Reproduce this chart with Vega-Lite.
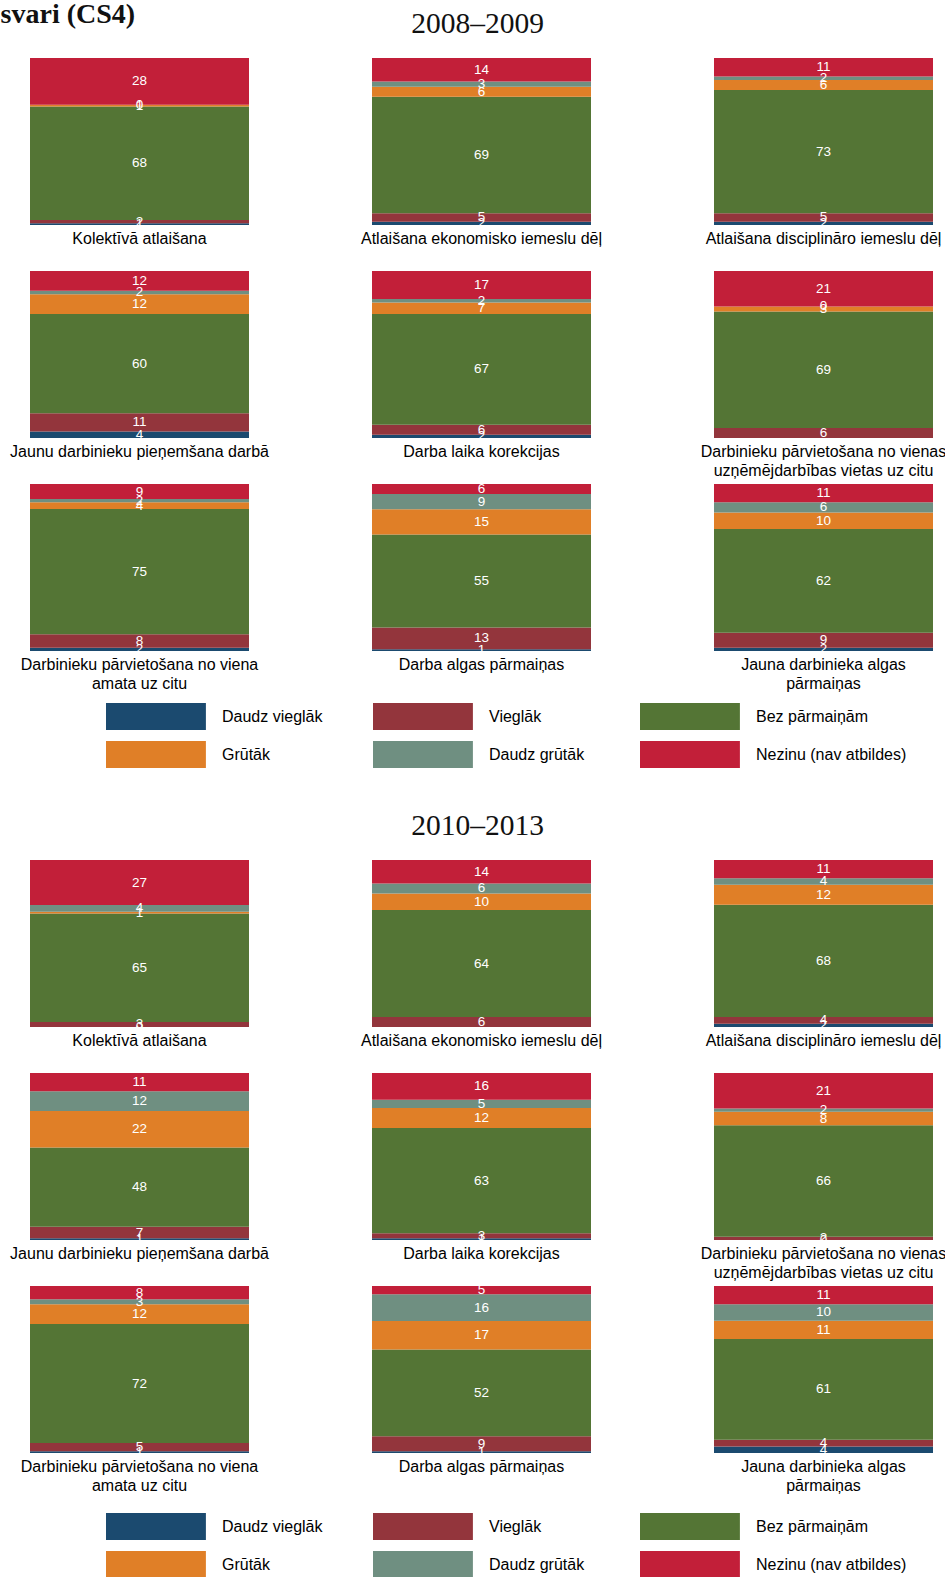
{
  "$schema": "https://vega.github.io/schema/vega-lite/v6.json",
  "padding": 0,
  "background": "white",
  "title": {"text": "svari (CS4)", "anchor": "start", "font": "Liberation Serif", "fontSize": 28, "fontWeight": "bold", "color": "#111", "offset": -20, "dx": -9},
  "config": {
    "view": {"stroke": null},
    "font": "Liberation Sans",
    "header": {"labels": false, "title": null, "labelFontSize": 0, "labelPadding": 0},
    "headerFacet": {"labels": false, "title": null, "labelFontSize": 0, "labelPadding": 0}
  },
  "datasets": {
    "d": [
      {"p": "2008–2009", "item": "Kolektīvā atlaišana", "cat": "Daudz vieglāk", "k": 1, "v": 1},
      {"p": "2008–2009", "item": "Kolektīvā atlaišana", "cat": "Vieglāk", "k": 2, "v": 2},
      {"p": "2008–2009", "item": "Kolektīvā atlaišana", "cat": "Bez pārmaiņām", "k": 3, "v": 68},
      {"p": "2008–2009", "item": "Kolektīvā atlaišana", "cat": "Grūtāk", "k": 4, "v": 1},
      {"p": "2008–2009", "item": "Kolektīvā atlaišana", "cat": "Daudz grūtāk", "k": 5, "v": 0},
      {"p": "2008–2009", "item": "Kolektīvā atlaišana", "cat": "Nezinu (nav atbildes)", "k": 6, "v": 28},
      {"p": "2008–2009", "item": "Atlaišana ekonomisko iemeslu dēļ", "cat": "Daudz vieglāk", "k": 1, "v": 2},
      {"p": "2008–2009", "item": "Atlaišana ekonomisko iemeslu dēļ", "cat": "Vieglāk", "k": 2, "v": 5},
      {"p": "2008–2009", "item": "Atlaišana ekonomisko iemeslu dēļ", "cat": "Bez pārmaiņām", "k": 3, "v": 69},
      {"p": "2008–2009", "item": "Atlaišana ekonomisko iemeslu dēļ", "cat": "Grūtāk", "k": 4, "v": 6},
      {"p": "2008–2009", "item": "Atlaišana ekonomisko iemeslu dēļ", "cat": "Daudz grūtāk", "k": 5, "v": 3},
      {"p": "2008–2009", "item": "Atlaišana ekonomisko iemeslu dēļ", "cat": "Nezinu (nav atbildes)", "k": 6, "v": 14},
      {"p": "2008–2009", "item": "Atlaišana disciplināro iemeslu dēļ", "cat": "Daudz vieglāk", "k": 1, "v": 2},
      {"p": "2008–2009", "item": "Atlaišana disciplināro iemeslu dēļ", "cat": "Vieglāk", "k": 2, "v": 5},
      {"p": "2008–2009", "item": "Atlaišana disciplināro iemeslu dēļ", "cat": "Bez pārmaiņām", "k": 3, "v": 73},
      {"p": "2008–2009", "item": "Atlaišana disciplināro iemeslu dēļ", "cat": "Grūtāk", "k": 4, "v": 6},
      {"p": "2008–2009", "item": "Atlaišana disciplināro iemeslu dēļ", "cat": "Daudz grūtāk", "k": 5, "v": 2},
      {"p": "2008–2009", "item": "Atlaišana disciplināro iemeslu dēļ", "cat": "Nezinu (nav atbildes)", "k": 6, "v": 11},
      {"p": "2008–2009", "item": "Jaunu darbinieku pieņemšana darbā", "cat": "Daudz vieglāk", "k": 1, "v": 4},
      {"p": "2008–2009", "item": "Jaunu darbinieku pieņemšana darbā", "cat": "Vieglāk", "k": 2, "v": 11},
      {"p": "2008–2009", "item": "Jaunu darbinieku pieņemšana darbā", "cat": "Bez pārmaiņām", "k": 3, "v": 60},
      {"p": "2008–2009", "item": "Jaunu darbinieku pieņemšana darbā", "cat": "Grūtāk", "k": 4, "v": 12},
      {"p": "2008–2009", "item": "Jaunu darbinieku pieņemšana darbā", "cat": "Daudz grūtāk", "k": 5, "v": 2},
      {"p": "2008–2009", "item": "Jaunu darbinieku pieņemšana darbā", "cat": "Nezinu (nav atbildes)", "k": 6, "v": 12},
      {"p": "2008–2009", "item": "Darba laika korekcijas", "cat": "Daudz vieglāk", "k": 1, "v": 2},
      {"p": "2008–2009", "item": "Darba laika korekcijas", "cat": "Vieglāk", "k": 2, "v": 6},
      {"p": "2008–2009", "item": "Darba laika korekcijas", "cat": "Bez pārmaiņām", "k": 3, "v": 67},
      {"p": "2008–2009", "item": "Darba laika korekcijas", "cat": "Grūtāk", "k": 4, "v": 7},
      {"p": "2008–2009", "item": "Darba laika korekcijas", "cat": "Daudz grūtāk", "k": 5, "v": 2},
      {"p": "2008–2009", "item": "Darba laika korekcijas", "cat": "Nezinu (nav atbildes)", "k": 6, "v": 17},
      {"p": "2008–2009", "item": "Darbinieku pārvietošana no vienas|uzņēmējdarbības vietas uz citu", "cat": "Vieglāk", "k": 2, "v": 6},
      {"p": "2008–2009", "item": "Darbinieku pārvietošana no vienas|uzņēmējdarbības vietas uz citu", "cat": "Bez pārmaiņām", "k": 3, "v": 69},
      {"p": "2008–2009", "item": "Darbinieku pārvietošana no vienas|uzņēmējdarbības vietas uz citu", "cat": "Grūtāk", "k": 4, "v": 3},
      {"p": "2008–2009", "item": "Darbinieku pārvietošana no vienas|uzņēmējdarbības vietas uz citu", "cat": "Daudz grūtāk", "k": 5, "v": 0},
      {"p": "2008–2009", "item": "Darbinieku pārvietošana no vienas|uzņēmējdarbības vietas uz citu", "cat": "Nezinu (nav atbildes)", "k": 6, "v": 21},
      {"p": "2008–2009", "item": "Darbinieku pārvietošana no viena|amata uz citu", "cat": "Daudz vieglāk", "k": 1, "v": 2},
      {"p": "2008–2009", "item": "Darbinieku pārvietošana no viena|amata uz citu", "cat": "Vieglāk", "k": 2, "v": 8},
      {"p": "2008–2009", "item": "Darbinieku pārvietošana no viena|amata uz citu", "cat": "Bez pārmaiņām", "k": 3, "v": 75},
      {"p": "2008–2009", "item": "Darbinieku pārvietošana no viena|amata uz citu", "cat": "Grūtāk", "k": 4, "v": 4},
      {"p": "2008–2009", "item": "Darbinieku pārvietošana no viena|amata uz citu", "cat": "Daudz grūtāk", "k": 5, "v": 2},
      {"p": "2008–2009", "item": "Darbinieku pārvietošana no viena|amata uz citu", "cat": "Nezinu (nav atbildes)", "k": 6, "v": 9},
      {"p": "2008–2009", "item": "Darba algas pārmaiņas", "cat": "Daudz vieglāk", "k": 1, "v": 1},
      {"p": "2008–2009", "item": "Darba algas pārmaiņas", "cat": "Vieglāk", "k": 2, "v": 13},
      {"p": "2008–2009", "item": "Darba algas pārmaiņas", "cat": "Bez pārmaiņām", "k": 3, "v": 55},
      {"p": "2008–2009", "item": "Darba algas pārmaiņas", "cat": "Grūtāk", "k": 4, "v": 15},
      {"p": "2008–2009", "item": "Darba algas pārmaiņas", "cat": "Daudz grūtāk", "k": 5, "v": 9},
      {"p": "2008–2009", "item": "Darba algas pārmaiņas", "cat": "Nezinu (nav atbildes)", "k": 6, "v": 6},
      {"p": "2008–2009", "item": "Jauna darbinieka algas|pārmaiņas", "cat": "Daudz vieglāk", "k": 1, "v": 2},
      {"p": "2008–2009", "item": "Jauna darbinieka algas|pārmaiņas", "cat": "Vieglāk", "k": 2, "v": 9},
      {"p": "2008–2009", "item": "Jauna darbinieka algas|pārmaiņas", "cat": "Bez pārmaiņām", "k": 3, "v": 62},
      {"p": "2008–2009", "item": "Jauna darbinieka algas|pārmaiņas", "cat": "Grūtāk", "k": 4, "v": 10},
      {"p": "2008–2009", "item": "Jauna darbinieka algas|pārmaiņas", "cat": "Daudz grūtāk", "k": 5, "v": 6},
      {"p": "2008–2009", "item": "Jauna darbinieka algas|pārmaiņas", "cat": "Nezinu (nav atbildes)", "k": 6, "v": 11},

      {"p": "2010–2013", "item": "Kolektīvā atlaišana", "cat": "Daudz vieglāk", "k": 1, "v": 0},
      {"p": "2010–2013", "item": "Kolektīvā atlaišana", "cat": "Vieglāk", "k": 2, "v": 3},
      {"p": "2010–2013", "item": "Kolektīvā atlaišana", "cat": "Bez pārmaiņām", "k": 3, "v": 65},
      {"p": "2010–2013", "item": "Kolektīvā atlaišana", "cat": "Grūtāk", "k": 4, "v": 1},
      {"p": "2010–2013", "item": "Kolektīvā atlaišana", "cat": "Daudz grūtāk", "k": 5, "v": 4},
      {"p": "2010–2013", "item": "Kolektīvā atlaišana", "cat": "Nezinu (nav atbildes)", "k": 6, "v": 27},
      {"p": "2010–2013", "item": "Atlaišana ekonomisko iemeslu dēļ", "cat": "Vieglāk", "k": 2, "v": 6},
      {"p": "2010–2013", "item": "Atlaišana ekonomisko iemeslu dēļ", "cat": "Bez pārmaiņām", "k": 3, "v": 64},
      {"p": "2010–2013", "item": "Atlaišana ekonomisko iemeslu dēļ", "cat": "Grūtāk", "k": 4, "v": 10},
      {"p": "2010–2013", "item": "Atlaišana ekonomisko iemeslu dēļ", "cat": "Daudz grūtāk", "k": 5, "v": 6},
      {"p": "2010–2013", "item": "Atlaišana ekonomisko iemeslu dēļ", "cat": "Nezinu (nav atbildes)", "k": 6, "v": 14},
      {"p": "2010–2013", "item": "Atlaišana disciplināro iemeslu dēļ", "cat": "Daudz vieglāk", "k": 1, "v": 2},
      {"p": "2010–2013", "item": "Atlaišana disciplināro iemeslu dēļ", "cat": "Vieglāk", "k": 2, "v": 4},
      {"p": "2010–2013", "item": "Atlaišana disciplināro iemeslu dēļ", "cat": "Bez pārmaiņām", "k": 3, "v": 68},
      {"p": "2010–2013", "item": "Atlaišana disciplināro iemeslu dēļ", "cat": "Grūtāk", "k": 4, "v": 12},
      {"p": "2010–2013", "item": "Atlaišana disciplināro iemeslu dēļ", "cat": "Daudz grūtāk", "k": 5, "v": 4},
      {"p": "2010–2013", "item": "Atlaišana disciplināro iemeslu dēļ", "cat": "Nezinu (nav atbildes)", "k": 6, "v": 11},
      {"p": "2010–2013", "item": "Jaunu darbinieku pieņemšana darbā", "cat": "Daudz vieglāk", "k": 1, "v": 1},
      {"p": "2010–2013", "item": "Jaunu darbinieku pieņemšana darbā", "cat": "Vieglāk", "k": 2, "v": 7},
      {"p": "2010–2013", "item": "Jaunu darbinieku pieņemšana darbā", "cat": "Bez pārmaiņām", "k": 3, "v": 48},
      {"p": "2010–2013", "item": "Jaunu darbinieku pieņemšana darbā", "cat": "Grūtāk", "k": 4, "v": 22},
      {"p": "2010–2013", "item": "Jaunu darbinieku pieņemšana darbā", "cat": "Daudz grūtāk", "k": 5, "v": 12},
      {"p": "2010–2013", "item": "Jaunu darbinieku pieņemšana darbā", "cat": "Nezinu (nav atbildes)", "k": 6, "v": 11},
      {"p": "2010–2013", "item": "Darba laika korekcijas", "cat": "Daudz vieglāk", "k": 1, "v": 1},
      {"p": "2010–2013", "item": "Darba laika korekcijas", "cat": "Vieglāk", "k": 2, "v": 3},
      {"p": "2010–2013", "item": "Darba laika korekcijas", "cat": "Bez pārmaiņām", "k": 3, "v": 63},
      {"p": "2010–2013", "item": "Darba laika korekcijas", "cat": "Grūtāk", "k": 4, "v": 12},
      {"p": "2010–2013", "item": "Darba laika korekcijas", "cat": "Daudz grūtāk", "k": 5, "v": 5},
      {"p": "2010–2013", "item": "Darba laika korekcijas", "cat": "Nezinu (nav atbildes)", "k": 6, "v": 16},
      {"p": "2010–2013", "item": "Darbinieku pārvietošana no vienas|uzņēmējdarbības vietas uz citu", "cat": "Daudz vieglāk", "k": 1, "v": 0},
      {"p": "2010–2013", "item": "Darbinieku pārvietošana no vienas|uzņēmējdarbības vietas uz citu", "cat": "Vieglāk", "k": 2, "v": 2},
      {"p": "2010–2013", "item": "Darbinieku pārvietošana no vienas|uzņēmējdarbības vietas uz citu", "cat": "Bez pārmaiņām", "k": 3, "v": 66},
      {"p": "2010–2013", "item": "Darbinieku pārvietošana no vienas|uzņēmējdarbības vietas uz citu", "cat": "Grūtāk", "k": 4, "v": 8},
      {"p": "2010–2013", "item": "Darbinieku pārvietošana no vienas|uzņēmējdarbības vietas uz citu", "cat": "Daudz grūtāk", "k": 5, "v": 2},
      {"p": "2010–2013", "item": "Darbinieku pārvietošana no vienas|uzņēmējdarbības vietas uz citu", "cat": "Nezinu (nav atbildes)", "k": 6, "v": 21},
      {"p": "2010–2013", "item": "Darbinieku pārvietošana no viena|amata uz citu", "cat": "Daudz vieglāk", "k": 1, "v": 1},
      {"p": "2010–2013", "item": "Darbinieku pārvietošana no viena|amata uz citu", "cat": "Vieglāk", "k": 2, "v": 5},
      {"p": "2010–2013", "item": "Darbinieku pārvietošana no viena|amata uz citu", "cat": "Bez pārmaiņām", "k": 3, "v": 72},
      {"p": "2010–2013", "item": "Darbinieku pārvietošana no viena|amata uz citu", "cat": "Grūtāk", "k": 4, "v": 12},
      {"p": "2010–2013", "item": "Darbinieku pārvietošana no viena|amata uz citu", "cat": "Daudz grūtāk", "k": 5, "v": 3},
      {"p": "2010–2013", "item": "Darbinieku pārvietošana no viena|amata uz citu", "cat": "Nezinu (nav atbildes)", "k": 6, "v": 8},
      {"p": "2010–2013", "item": "Darba algas pārmaiņas", "cat": "Daudz vieglāk", "k": 1, "v": 1},
      {"p": "2010–2013", "item": "Darba algas pārmaiņas", "cat": "Vieglāk", "k": 2, "v": 9},
      {"p": "2010–2013", "item": "Darba algas pārmaiņas", "cat": "Bez pārmaiņām", "k": 3, "v": 52},
      {"p": "2010–2013", "item": "Darba algas pārmaiņas", "cat": "Grūtāk", "k": 4, "v": 17},
      {"p": "2010–2013", "item": "Darba algas pārmaiņas", "cat": "Daudz grūtāk", "k": 5, "v": 16},
      {"p": "2010–2013", "item": "Darba algas pārmaiņas", "cat": "Nezinu (nav atbildes)", "k": 6, "v": 5},
      {"p": "2010–2013", "item": "Jauna darbinieka algas|pārmaiņas", "cat": "Daudz vieglāk", "k": 1, "v": 4},
      {"p": "2010–2013", "item": "Jauna darbinieka algas|pārmaiņas", "cat": "Vieglāk", "k": 2, "v": 4},
      {"p": "2010–2013", "item": "Jauna darbinieka algas|pārmaiņas", "cat": "Bez pārmaiņām", "k": 3, "v": 61},
      {"p": "2010–2013", "item": "Jauna darbinieka algas|pārmaiņas", "cat": "Grūtāk", "k": 4, "v": 11},
      {"p": "2010–2013", "item": "Jauna darbinieka algas|pārmaiņas", "cat": "Daudz grūtāk", "k": 5, "v": 10},
      {"p": "2010–2013", "item": "Jauna darbinieka algas|pārmaiņas", "cat": "Nezinu (nav atbildes)", "k": 6, "v": 11}
    ]
  },
  "resolve": {"legend": {"color": "independent"}},
  "spacing": 42,
  "vconcat": [
    {
      "data": {"name": "d"},
      "transform": [{"filter": "datum.p == '2008–2009'"}],
      "title": {"text": "2008–2009", "font": "Liberation Serif", "fontSize": 29.5, "fontWeight": "normal", "anchor": "middle", "offset": 19, "color": "#111"},
      "facet": {"field": "item", "type": "nominal", "header": {"title": null, "labels": false, "labelFontSize": 0, "labelPadding": 0, "labelExpr": "''"},
        "sort": ["Kolektīvā atlaišana", "Atlaišana ekonomisko iemeslu dēļ", "Atlaišana disciplināro iemeslu dēļ", "Jaunu darbinieku pieņemšana darbā", "Darba laika korekcijas", "Darbinieku pārvietošana no vienas|uzņēmējdarbības vietas uz citu", "Darbinieku pārvietošana no viena|amata uz citu", "Darba algas pārmaiņas", "Jauna darbinieka algas|pārmaiņas"]},
      "columns": 3,
      "bounds": "flush",
      "spacing": {"row": 46, "column": 123},
      "resolve": {"scale": {"x": "independent"}},
      "spec": {
        "width": 219,
        "height": 167,
        "encoding": {
          "x": {"field": "item", "type": "nominal", "scale": {"paddingInner": 0, "paddingOuter": 0},
            "axis": {"title": null, "labelAngle": 0, "ticks": false, "domain": false, "labelPadding": 5, "labelFontSize": 16, "labelFont": "Liberation Sans", "labelColor": "#000", "labelLimit": 0, "labelLineHeight": 19, "labelExpr": "split(datum.label, '|')"}},
          "y": {"field": "v", "type": "quantitative", "stack": "normalize", "axis": null},
          "order": {"field": "k", "type": "quantitative"}
        },
        "layer": [
          {"mark": {"type": "bar"},
           "encoding": {"color": {"field": "cat", "type": "nominal",
             "scale": {"domain": ["Daudz vieglāk", "Vieglāk", "Bez pārmaiņām", "Grūtāk", "Daudz grūtāk", "Nezinu (nav atbildes)"], "range": ["#1b4a6f", "#93353c", "#547535", "#e07f27", "#6f8f81", "#c21f39"]},
             "legend": {"title": null, "orient": "none", "direction": "horizontal", "legendX": 76, "legendY": 645, "columns": 3, "gridAlign": "all", "symbolType": "M-1,-1H6.4V1H-1Z", "symbolSize": 729, "symbolStrokeWidth": 0, "labelOffset": 89, "rowPadding": 11, "columnPadding": 0, "labelFontSize": 16, "labelFont": "Liberation Sans", "labelColor": "#000", "labelLimit": 0}}}},
          {"mark": {"type": "text", "color": "white", "fontSize": 13.5, "baseline": "middle", "font": "Liberation Sans"},
           "encoding": {
             "y": {"field": "v", "type": "quantitative", "stack": "normalize", "bandPosition": 0.5, "axis": null},
             "detail": {"field": "cat"},
             "text": {"field": "v", "type": "quantitative", "format": ".0f"}}}
        ]
      }
    },
    {
      "data": {"name": "d"},
      "transform": [{"filter": "datum.p == '2010–2013'"}],
      "title": {"text": "2010–2013", "font": "Liberation Serif", "fontSize": 29.5, "fontWeight": "normal", "anchor": "middle", "offset": 19, "color": "#111"},
      "facet": {"field": "item", "type": "nominal", "header": {"title": null, "labels": false, "labelFontSize": 0, "labelPadding": 0, "labelExpr": "''"},
        "sort": ["Kolektīvā atlaišana", "Atlaišana ekonomisko iemeslu dēļ", "Atlaišana disciplināro iemeslu dēļ", "Jaunu darbinieku pieņemšana darbā", "Darba laika korekcijas", "Darbinieku pārvietošana no vienas|uzņēmējdarbības vietas uz citu", "Darbinieku pārvietošana no viena|amata uz citu", "Darba algas pārmaiņas", "Jauna darbinieka algas|pārmaiņas"]},
      "columns": 3,
      "bounds": "flush",
      "spacing": {"row": 46, "column": 123},
      "resolve": {"scale": {"x": "independent"}},
      "spec": {
        "width": 219,
        "height": 167,
        "encoding": {
          "x": {"field": "item", "type": "nominal", "scale": {"paddingInner": 0, "paddingOuter": 0},
            "axis": {"title": null, "labelAngle": 0, "ticks": false, "domain": false, "labelPadding": 5, "labelFontSize": 16, "labelFont": "Liberation Sans", "labelColor": "#000", "labelLimit": 0, "labelLineHeight": 19, "labelExpr": "split(datum.label, '|')"}},
          "y": {"field": "v", "type": "quantitative", "stack": "normalize", "axis": null},
          "order": {"field": "k", "type": "quantitative"}
        },
        "layer": [
          {"mark": {"type": "bar"},
           "encoding": {"color": {"field": "cat", "type": "nominal",
             "scale": {"domain": ["Daudz vieglāk", "Vieglāk", "Bez pārmaiņām", "Grūtāk", "Daudz grūtāk", "Nezinu (nav atbildes)"], "range": ["#1b4a6f", "#93353c", "#547535", "#e07f27", "#6f8f81", "#c21f39"]},
             "legend": {"title": null, "orient": "none", "direction": "horizontal", "legendX": 76, "legendY": 653, "columns": 3, "gridAlign": "all", "symbolType": "M-1,-1H6.4V1H-1Z", "symbolSize": 729, "symbolStrokeWidth": 0, "labelOffset": 89, "rowPadding": 11, "columnPadding": 0, "labelFontSize": 16, "labelFont": "Liberation Sans", "labelColor": "#000", "labelLimit": 0}}}},
          {"mark": {"type": "text", "color": "white", "fontSize": 13.5, "baseline": "middle", "font": "Liberation Sans"},
           "encoding": {
             "y": {"field": "v", "type": "quantitative", "stack": "normalize", "bandPosition": 0.5, "axis": null},
             "detail": {"field": "cat"},
             "text": {"field": "v", "type": "quantitative", "format": ".0f"}}}
        ]
      }
    }
  ]
}
